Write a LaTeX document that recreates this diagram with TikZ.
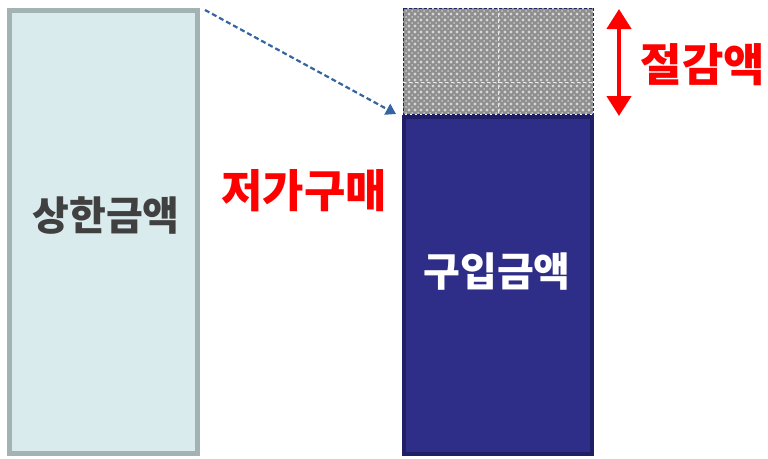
\documentclass[tikz,border=0pt]{standalone}
\usepackage{fontspec}
\newfontfamily\kr{Noto Sans CJK KR}[BoldFont={* Black}]
\usetikzlibrary{arrows.meta}
\definecolor{leftfill}{HTML}{DAEBEE}
\definecolor{leftline}{HTML}{A3B2B2}
\definecolor{navy}{HTML}{2E2E88}
\definecolor{navyline}{HTML}{1F1F66}
\definecolor{arrowblue}{HTML}{3465A0}
\definecolor{txtgray}{HTML}{404040}
\definecolor{patgray}{HTML}{8E8E8E}
\definecolor{patlight}{HTML}{D6D6D6}
\tikzset{
  bar/.style={draw, line width=4.5pt, minimum width=188pt, inner sep=0pt, outer sep=0pt},
  label/.style={font=\kr\bfseries\fontsize{40}{44}\selectfont, inner sep=0pt},
  redlabel/.style={label, text=red, font=\kr\bfseries\fontsize{45}{49}\selectfont},
}
\begin{document}
\begin{tikzpicture}[x=1pt,y=-1pt]
\useasboundingbox (0,0) rectangle (768,458);
\fill[white] (0,0) rectangle (768,458);
% left box
\node[bar, draw=leftline, fill=leftfill, minimum height=443pt, anchor=north west] (limit) at (9.5,10.5) {};
\node[label, text=txtgray] (limittxt) at (106,216) {상한금액};
% right purchase box
\node[bar, draw=navyline, fill=navy, line width=4pt, minimum height=337pt, anchor=north west] (buy) at (404,116.5) {};
\node[label, text=white] (buytxt) at (497,272) {구입금액};
% hatched saving box
\node[draw=none, fill=patgray, minimum width=190pt, minimum height=106pt, inner sep=0pt, anchor=north west] (save) at (403,8) {};
\begin{scope}
\clip (save.north west) rectangle (save.south east);
\foreach \i in {0,...,32}{
  \foreach \j in {0,...,18}{
    \fill[patlight] (403+\i*6,8+\j*6) circle (1.7);
    \fill[patlight!80!patgray] (406+\i*6,11+\j*6) circle (1.0);
  }
}
\end{scope}
\draw[white!85!gray, dashed, line width=0.6pt] (save.north) -- (save.south);
\draw[white!85!gray, dashed, line width=0.6pt] ([yshift=-74pt]save.north west) -- ([yshift=-74pt]save.north east);
\draw[navyline, line width=0.9pt, dash pattern=on 3pt off 2pt] (save.north west) rectangle (save.south east);
% dashed arrow
\coordinate (from) at (205,10);
\coordinate (to) at (396,114);
\draw[arrowblue, line width=2.2pt, dash pattern=on 5pt off 3pt, -{Triangle[length=10pt,width=12pt]}] (from) -- (to);
% red double arrow
\coordinate (top) at (619,9);
\coordinate (bot) at (619,116);
\draw[red, line width=4.5pt, {Triangle[length=20pt,width=24pt]}-{Triangle[length=20pt,width=24pt]}] (top) -- (bot);
% red labels
\node[redlabel] (cheap) at (304,191) {저가구매};
\node[redlabel] (saving) at (703,65) {절감액};
\end{tikzpicture}
\end{document}
